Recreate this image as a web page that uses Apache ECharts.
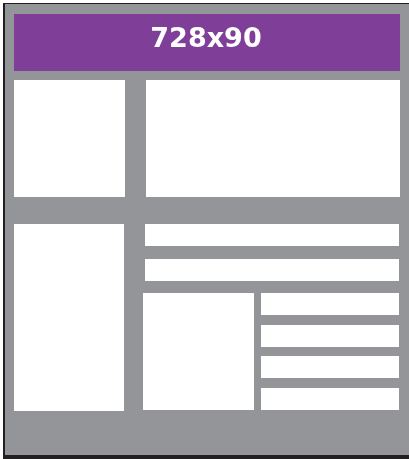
<!DOCTYPE html>
<html>
<head>
<meta charset="utf-8">
<script src="https://cdn.jsdelivr.net/npm/echarts@6/dist/echarts.min.js"></script>
<style>
  html, body { margin: 0; padding: 0; background: #fff; }
  #main { width: 409px; height: 459px; }
</style>
</head>
<body>
<div id="main"></div>
<script>
// layout blocks, in page units [x0, y0, x1, y1]
const frameRect = [[3, 3, 409, 459]];
const panelRect = [[5, 4, 409, 455]];
const bannerRect = [[14, 14, 400, 71]];
const bannerLabel = ["728x90"];
const whiteBoxes = [
  [14, 80, 125, 197],
  [146, 80, 400, 197],
  [14, 224, 124, 411],
  [145, 224, 399, 246],
  [145, 259, 399, 281],
  [143, 293, 254, 410],
  [261, 293, 399, 315],
  [261, 325, 399, 347],
  [261, 356, 399, 378],
  [261, 388, 399, 410]
];

const chart = echarts.init(document.getElementById("main"));

function rectSeries(data, color, label) {
  return {
    type: "custom",
    coordinateSystem: "cartesian2d",
    silent: true,
    data: data,
    renderItem: function(params, api) {
      const p0 = api.coord([api.value(0), api.value(1)]);
      const p1 = api.coord([api.value(2), api.value(3)]);
      const children = [{
        type: "rect",
        shape: { x: p0[0], y: p0[1], width: p1[0] - p0[0], height: p1[1] - p0[1] },
        style: { fill: color }
      }];
      if (label) {
        // banner caption
        children.push({
          type: "text",
          x: (p0[0] + p1[0]) / 2 - 1,
          y: (p0[1] + p1[1]) / 2 - 3,
          style: {
            text: label[params.dataIndex],
            fill: "#fff",
            font: "bold 27px 'DejaVu Sans', sans-serif",
            align: "center",
            verticalAlign: "middle"
          }
        });
      }
      return { type: "group", children: children };
    }
  };
}

chart.setOption({
  animation: false,
  grid: { left: 0, right: 0, top: 0, bottom: 0 },
  xAxis: { type: "value", min: 0, max: 409, show: false },
  yAxis: { type: "value", min: 0, max: 459, inverse: true, show: false },
  series: [
    rectSeries(frameRect, "#231f20"),
    rectSeries(panelRect, "#939598"),
    rectSeries(bannerRect, "#7f3f98", bannerLabel),
    rectSeries(whiteBoxes, "#ffffff")
  ]
});
</script>
</body>
</html>
